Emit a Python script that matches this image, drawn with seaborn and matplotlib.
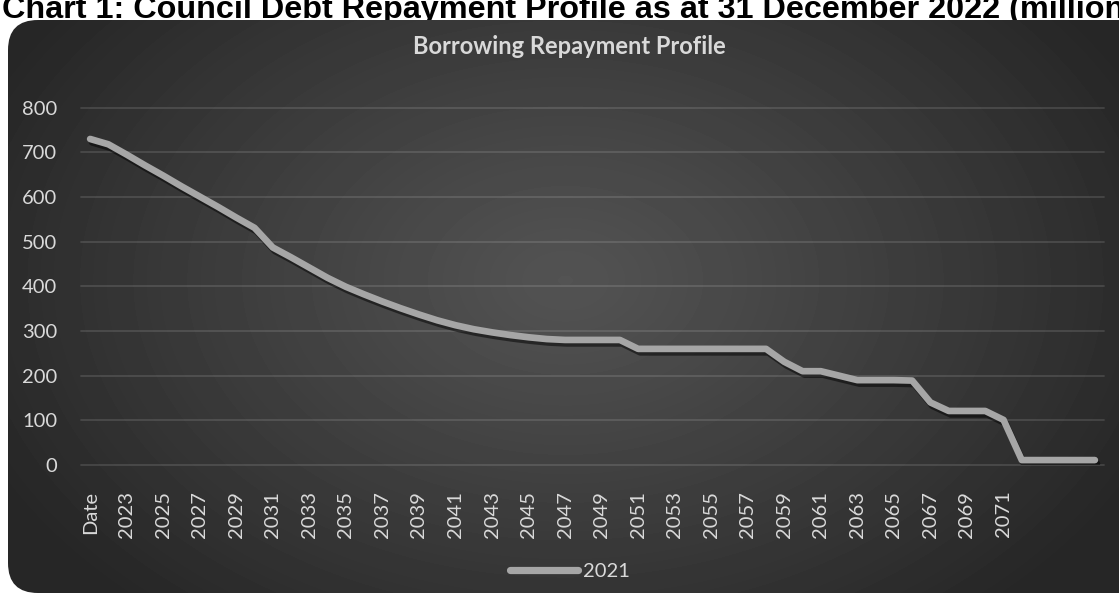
import numpy as np
import pandas as pd
import matplotlib
matplotlib.use("Agg")
import matplotlib.pyplot as plt
import matplotlib.patheffects as pe
from matplotlib.patches import FancyBboxPatch
from matplotlib.lines import Line2D
import seaborn as sns

# ---------------- data ----------------
categories = ["Date", "2022", "2023", "2024", "2025", "2026", "2027", "2028", "2029", "2030",
              "2031", "2032", "2033", "2034", "2035", "2036", "2037", "2038", "2039", "2040",
              "2041", "2042", "2043", "2044", "2045", "2046", "2047", "2048", "2049", "2050",
              "2051", "2052", "2053", "2054", "2055", "2056", "2057", "2058", "2059", "2060",
              "2061", "2062", "2063", "2064", "2065", "2066", "2067", "2068", "2069", "2070",
              "2071", "2072", "2073", "2074", "2075", "2076"]
values_2021 = [730, 718, 695, 671, 648, 624, 601, 578, 554, 531,
               487, 465, 442, 419, 399, 382, 366, 351, 337, 324,
               313, 304, 297, 291, 286, 282, 280, 280, 280, 280,
               260, 260, 260, 260, 260, 260, 260, 260, 231, 210,
               210, 200, 190, 190, 190, 189, 140, 121, 121, 121,
               101, 11, 11, 11, 11, 11]
tick_labels = ["Date", "2023", "2025", "2027", "2029", "2031", "2033", "2035", "2037",
               "2039", "2041", "2043", "2045", "2047", "2049", "2051", "2053", "2055",
               "2057", "2059", "2061", "2063", "2065", "2067", "2069", "2071", "", ""]
y_ticks = [0, 100, 200, 300, 400, 500, 600, 700, 800]
series_name = "2021"
chart_title = "Borrowing Repayment Profile"
page_title = "Chart 1: Council Debt Repayment Profile as at 31 December 2022 (million"

df = pd.DataFrame({"category": categories, "value": values_2021})
df["pos"] = np.arange(len(df))

# ---------------- style ----------------
sns.set_style("white")
plt.rcParams["font.family"] = ["Lato", "DejaVu Sans"]

W, H = 1119, 594
fig = plt.figure(figsize=(W / 100, H / 100), dpi=100)
fig.patch.set_facecolor("white")

# background panel with radial gradient
bg = fig.add_axes([0, 0, 1, 1], zorder=-5)
bg.set_xlim(0, W)
bg.set_ylim(H, 0)
bg.axis("off")
yy, xx = np.mgrid[0:H, 0:W]
cx, cy, rx, ry = 565, 280, 640, 440
r = np.clip(np.sqrt(((xx - cx) / rx) ** 2 + ((yy - cy) / ry) ** 2), 0, 1)
c_in, c_out = 0x53 / 255, 0x26 / 255
shade = c_in + (c_out - c_in) * r ** 1.1
img = bg.imshow(shade, extent=(0, W, H, 0), cmap="gray", vmin=0, vmax=1,
                interpolation="bilinear", aspect="auto")
panel = FancyBboxPatch((8, 20), 1140, 573, boxstyle="round,pad=0,rounding_size=30",
                       transform=bg.transData, facecolor="none", edgecolor="none")
bg.add_patch(panel)
img.set_clip_path(panel)

# page title (cut at top / right as in reference, partly covered by the panel)
fig.text(2 / W, 1 - 18 / H, page_title, ha="left", va="baseline",
         fontsize=23.3, fontweight="bold", color="black", zorder=-10,
         family=["Liberation Sans", "DejaVu Sans"])

# chart title
fig.text(569 / W, 1 - 54 / H, chart_title, ha="center", va="baseline",
         fontsize=17, fontweight="bold", color="#D9D9D9")

# main axes
left, right, top, bottom = 81, 1104, 107.7, 465
ax = fig.add_axes([left / W, (H - bottom) / H, (right - left) / W, (bottom - top) / H])
ax.patch.set_alpha(0)

sns.lineplot(data=df, x="pos", y="value", ax=ax, color="#A6A6A6", linewidth=4.8,
             sort=False, label=series_name, legend=False)
line = ax.lines[0]
line.set_solid_capstyle("round")
line.set_solid_joinstyle("round")
line.set_path_effects([pe.SimpleLineShadow(offset=(1.5, -2.5), shadow_color="black", alpha=0.5),
                       pe.Normal()])

ax.set_xlim(-0.5, len(categories) - 0.5)
ax.set_ylim(0, 800)
ax.set_yticks(y_ticks)
ax.set_yticklabels([str(v) for v in y_ticks])
ax.set_xticks(np.arange(0, len(categories), 2))
ax.set_xticklabels(tick_labels, rotation=90)
ax.set_xlabel("")
ax.set_ylabel("")
for s in ax.spines.values():
    s.set_visible(False)
ax.tick_params(axis="x", length=0, pad=18.5, labelsize=14.5, labelcolor="#D9D9D9")
ax.tick_params(axis="y", length=0, pad=17, labelsize=14.5, labelcolor="#D9D9D9")
ax.yaxis.grid(True, color="white", alpha=0.13, linewidth=1.3)
ax.xaxis.grid(False)
for gl in ax.get_ygridlines():
    gl.set_clip_on(False)

# legend
leg_handle = Line2D([0], [0], color="#A6A6A6", linewidth=5.2, solid_capstyle="round")
fig.legend([leg_handle], [series_name], loc="center", bbox_to_anchor=(570 / W, 23 / H),
           frameon=False, handlelength=3.4, handletextpad=0.25, fontsize=14.5,
           labelcolor="#D9D9D9")

fig.savefig("out.png", dpi=100, facecolor="white")
